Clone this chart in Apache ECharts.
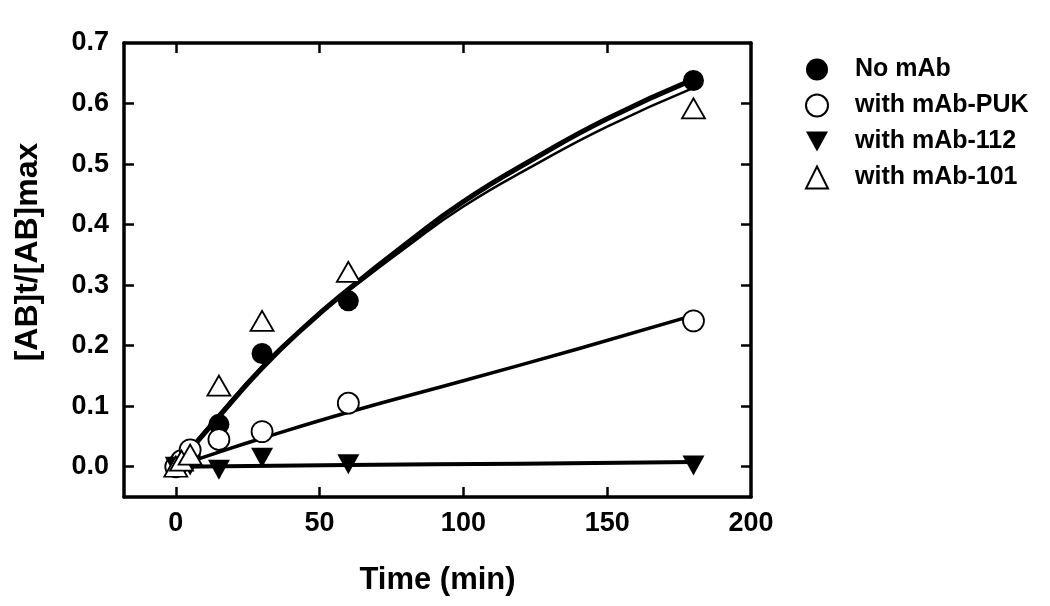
<!DOCTYPE html>
<html>
<head>
<meta charset="utf-8">
<script src="https://cdn.jsdelivr.net/npm/echarts@6/dist/echarts.min.js"></script>
<style>html,body{margin:0;padding:0;background:#fff;}#c{width:1050px;height:606px;}</style>
</head>
<body>
<div id="c"></div>
<script>
// ---- data ----
var seriesNames = ['No mAb', 'with mAb-PUK', 'with mAb-112', 'with mAb-101'];
var noMAb   = [[0,0],[2,0.008],[5,0.022],[15,0.07],[30,0.187],[60,0.274],[180,0.638]];
var mAbPUK  = [[0,0],[2,0.01],[5,0.028],[15,0.045],[30,0.058],[60,0.105],[180,0.241]];
var mAb112  = [[0,0],[2,0.0],[5,0.002],[15,-0.005],[30,0.015],[60,0.004],[180,0.002]];
var mAb101  = [[0,0],[2,0.01],[5,0.02],[15,0.134],[30,0.241],[60,0.322],[180,0.592]];
// fitted curves
var fitNoMAb = [[0,0],[15,0.083],[30,0.163],[45,0.232],[60,0.293],[80,0.368],[100,0.438],[125,0.51],[150,0.575],[180,0.64]];
var fit101   = [[0,0],[15,0.086],[30,0.166],[45,0.233],[60,0.29],[80,0.362],[100,0.43],[125,0.499],[150,0.562],[180,0.626]];
var fitPUK   = [[0,0],[15,0.024],[30,0.047],[60,0.09],[100,0.142],[140,0.195],[180,0.25]];
var fit112   = [[0,0],[60,0.003],[120,0.005],[180,0.008]];
var xTicks = [0, 50, 100, 150, 200];
var yTicks = [0, 0.1, 0.2, 0.3, 0.4, 0.5, 0.6, 0.7];

var FONT = 'Liberation Sans';
var chart = echarts.init(document.getElementById('c'));
var axisLine = {show: true, onZero: false, lineStyle: {color: '#000', width: 3.5}};
var tickStyle = {color: '#000', width: 2.5};
var downTri = 'path://M0,0L20,0L10,18Z';

var option = {
  backgroundColor: '#fff',
  animation: false,
  grid: {left: 124, right: 299, top: 43, bottom: 109, containLabel: false},
  legend: {
    orient: 'vertical', left: 800, top: 52,
    itemWidth: 22, itemHeight: 22, itemGap: 11,
    textStyle: {fontFamily: FONT, fontWeight: 'bold', fontSize: 25, color: '#000', padding: [0,0,0,22]},
    data: [
      {name: 'No mAb', icon: 'circle'},
      {name: 'with mAb-PUK', icon: 'circle'},
      {name: 'with mAb-112', icon: downTri},
      {name: 'with mAb-101', icon: 'triangle'}
    ]
  },
  graphic: [{
    type: 'text', x: 28, y: 252, rotation: Math.PI / 2,
    style: {text: '[AB]t/[AB]max', fontFamily: FONT, fontWeight: 'bold', fontSize: 32, fill: '#000', align: 'center', verticalAlign: 'middle'}
  }],
  xAxis: [{
    type: 'value', position: 'bottom', min: -18, max: 200,
    axisLine: axisLine, splitLine: {show: false},
    axisTick: {show: true, inside: true, length: 10, lineStyle: tickStyle, customValues: [0,50,100,150]},
    axisLabel: {show: true, customValues: xTicks, margin: 13, fontFamily: FONT, fontWeight: 'bold', fontSize: 27, color: '#000'},
    name: 'Time (min)', nameLocation: 'middle', nameGap: 68,
    nameTextStyle: {fontFamily: FONT, fontWeight: 'bold', fontSize: 31, color: '#000'}
  }, {
    type: 'value', position: 'top', min: -18, max: 200,
    axisLine: axisLine, splitLine: {show: false},
    axisTick: {show: true, inside: true, length: 10, lineStyle: tickStyle, customValues: [0,50,100,150]},
    axisLabel: {show: false}
  }],
  yAxis: [{
    type: 'value', position: 'left', min: -0.05, max: 0.7,
    axisLine: axisLine, splitLine: {show: false},
    axisTick: {show: true, inside: true, length: 10, lineStyle: tickStyle, customValues: [0,0.1,0.2,0.3,0.4,0.5,0.6]},
    axisLabel: {show: true, customValues: yTicks, margin: 15, fontFamily: FONT, fontWeight: 'bold', fontSize: 27, color: '#000',
      formatter: function (v) { return v.toFixed(1); }}
  }, {
    type: 'value', position: 'right', min: -0.05, max: 0.7,
    axisLine: axisLine, splitLine: {show: false},
    axisTick: {show: true, inside: true, length: 10, lineStyle: tickStyle, customValues: [0,0.1,0.2,0.3,0.4,0.5,0.6]},
    axisLabel: {show: false}
  }],
  series: [
    {type: 'line', data: fitNoMAb, smooth: true, showSymbol: false, symbol: 'none', lineStyle: {color: '#000', width: 5}, z: 2, silent: true},
    {type: 'line', data: fit101, smooth: true, showSymbol: false, symbol: 'none', lineStyle: {color: '#000', width: 2.5}, z: 2, silent: true},
    {type: 'line', data: fitPUK, smooth: true, showSymbol: false, symbol: 'none', lineStyle: {color: '#000', width: 3.5}, z: 2, silent: true},
    {type: 'line', data: fit112, smooth: true, showSymbol: false, symbol: 'none', lineStyle: {color: '#000', width: 4}, z: 2, silent: true},
    {name: seriesNames[0], type: 'scatter', data: noMAb, symbol: 'circle', symbolSize: 21,
      itemStyle: {color: '#000', opacity: 1}, z: 5},
    {name: seriesNames[1], type: 'scatter', data: mAbPUK, symbol: 'circle', symbolSize: 21,
      itemStyle: {color: '#fff', borderColor: '#000', borderWidth: 1.8, opacity: 1}, z: 5},
    {name: seriesNames[2], type: 'scatter', data: mAb112, symbol: downTri, symbolSize: [22, 20],
      itemStyle: {color: '#000', opacity: 1}, z: 5},
    {name: seriesNames[3], type: 'scatter', data: mAb101, symbol: 'triangle', symbolSize: [23, 20],
      itemStyle: {color: '#fff', borderColor: '#000', borderWidth: 1.8, opacity: 1}, z: 5}
  ]
};
chart.setOption(option);
</script>
</body>
</html>
